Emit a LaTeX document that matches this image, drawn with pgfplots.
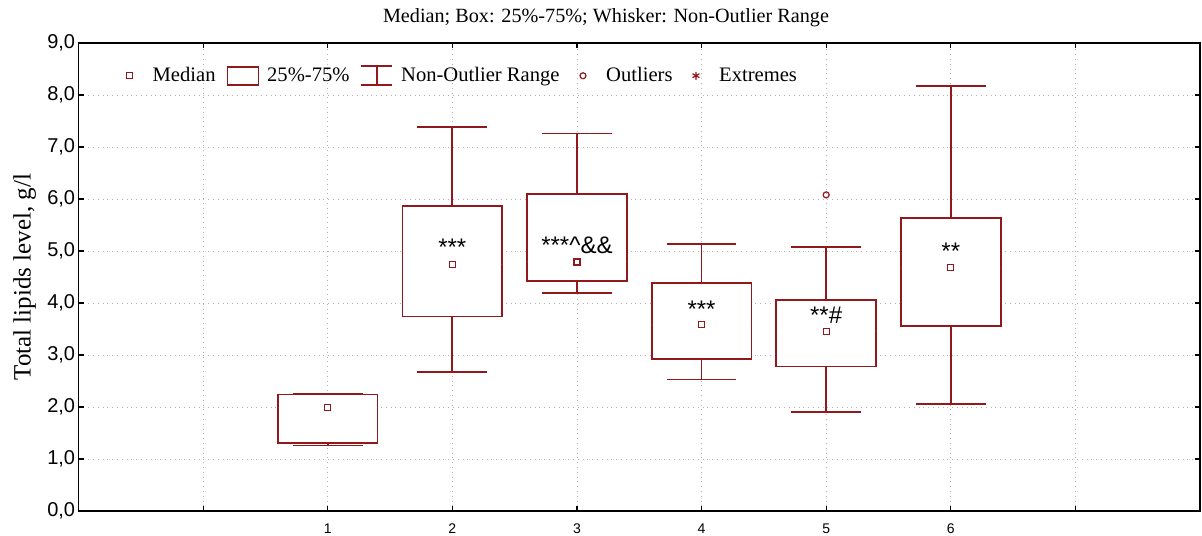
\documentclass[border=0pt]{standalone}
\usepackage{fontspec}
\setmainfont{Liberation Serif}
\newfontfamily\arialfont{Liberation Sans}
\usepackage{pgfplots}
\pgfplotsset{compat=1.18}
\usepgfplotslibrary{statistics}
\definecolor{boxred}{RGB}{145,25,30}

\begin{document}
\begin{tikzpicture}
\path[use as bounding box] (0,0) rectangle (601pt,267.5pt);
\node[anchor=base, font=\fontsize{10.1}{12}\selectfont] at (303pt,256pt)
  {Median; Box: 25\%-75\%; Whisker: Non-Outlier Range};
\begin{axis}[
  at={(39.25pt,12pt)}, anchor=south west,
  scale only axis, width=560.75pt, height=234pt,
  xmin=-1, xmax=8, ymin=0, ymax=9,
  xtick={0,...,7}, xticklabels={,1,2,3,4,5,6,},
  ytick={0,...,9},
  grid=major,
  major grid style={dotted, gray!60, line width=0.4pt},
  axis line style={black, line width=0.9pt},
  tick style={black, line width=0.6pt},
  major tick length=2.5pt, tick align=inside,
  yticklabel style={font=\arialfont\fontsize{10}{12}\selectfont, inner sep=1.5pt},
  xticklabel style={font=\arialfont\fontsize{7}{8}\selectfont, yshift=-3pt},
  /pgf/number format/.cd, fixed, fixed zerofill, precision=1, use comma, assume math mode=true,
  /pgfplots/.cd,
  ylabel={Total lipids level, g/l},
  ylabel style={font=\fontsize{12.5}{14}\selectfont, at={(axis description cs:-0.048,0.5)}, anchor=center},
  legend columns=-1,
  legend style={draw=none, fill=none, at={(axis cs:-0.694,8.37)}, anchor=west,
    inner xsep=0pt, font=\fontsize{10.3}{12}\selectfont,
    /tikz/every odd column/.append style={column sep=1.9pt},
    /tikz/every even column/.append style={column sep=3.5pt}},
  boxplot/draw direction=y,
]
% legend
\addlegendimage{legend image code/.code={\path (0pt,0pt) (13.5pt,0pt);
  \draw[boxred, line width=0.6pt, mark=square, mark size=1.5pt] plot coordinates {(6pt,0pt)};}}
\addlegendentry{Median}
\addlegendimage{legend image code/.code={\draw[boxred, line width=0.9pt, fill=white] (0pt,-4.5pt) rectangle (15.5pt,4.5pt);}}
\addlegendentry{25\%-75\%}
\addlegendimage{legend image code/.code={\draw[boxred, line width=0.9pt] (0pt,-4.8pt)--(15.5pt,-4.8pt) (7.75pt,-4.8pt)--(7.75pt,4.8pt) (0pt,4.8pt)--(15.5pt,4.8pt);}}
\addlegendentry{Non-Outlier Range}
\addlegendimage{legend image code/.code={\path (0pt,0pt) (13.5pt,0pt);
  \draw[boxred, line width=0.6pt, mark=o, mark size=1.5pt] plot coordinates {(6pt,0pt)};}}
\addlegendentry{Outliers}
\addlegendimage{legend image code/.code={\path (0pt,0pt) (13.5pt,0pt);
  \draw[boxred, line width=0.6pt, mark=asterisk, mark size=2pt] plot coordinates {(6pt,0pt)};}}
\addlegendentry{Extremes}

% boxes
\pgfplotsset{boxstyle/.style={boxred, line width=0.9pt, fill=white, forget plot}}
\addplot[boxstyle, boxplot prepared={draw position=1, lower whisker=1.26, lower quartile=1.31, median=1.99, upper quartile=2.24, upper whisker=2.26, box extend=0.8, whisker extend=0.56, every median/.style={draw=none}}] coordinates {};
\addplot[boxstyle, boxplot prepared={draw position=2, lower whisker=2.67, lower quartile=3.74, median=4.74, upper quartile=5.87, upper whisker=7.38, box extend=0.8, whisker extend=0.56, every median/.style={draw=none}}] coordinates {};
\addplot[boxstyle, boxplot prepared={draw position=3, lower whisker=4.19, lower quartile=4.43, median=4.79, upper quartile=6.10, upper whisker=7.26, box extend=0.8, whisker extend=0.56, every median/.style={draw=none}}] coordinates {};
\addplot[boxstyle, boxplot prepared={draw position=4, lower whisker=2.53, lower quartile=2.92, median=3.58, upper quartile=4.38, upper whisker=5.14, box extend=0.8, whisker extend=0.56, every median/.style={draw=none}}] coordinates {};
\addplot[boxstyle, boxplot prepared={draw position=5, lower whisker=1.91, lower quartile=2.78, median=3.45, upper quartile=4.06, upper whisker=5.08, box extend=0.8, whisker extend=0.56, every median/.style={draw=none}}] coordinates {};
\addplot[boxstyle, boxplot prepared={draw position=6, lower whisker=2.06, lower quartile=3.56, median=4.68, upper quartile=5.63, upper whisker=8.18, box extend=0.8, whisker extend=0.56, every median/.style={draw=none}}] coordinates {};

% medians
\addplot[only marks, mark=square, mark size=1.5pt, boxred, mark options={line width=0.6pt}, forget plot]
  coordinates {(1,1.99)(2,4.74)(3,4.79)(4,3.58)(5,3.45)(6,4.68)};
% outliers
\addplot[only marks, mark=o, mark size=1.5pt, boxred, mark options={line width=0.6pt}, forget plot]
  coordinates {(5,6.08)};

% significance marks
\node[anchor=base, font=\arialfont\fontsize{12}{14}\selectfont] at (axis cs:2,4.91) {***};
\node[anchor=base, font=\arialfont\fontsize{12}{14}\selectfont] at (axis cs:3,4.96) {***\textasciicircum\&\&};
\node[anchor=base, font=\arialfont\fontsize{12}{14}\selectfont] at (axis cs:4,3.73) {***};
\node[anchor=base, font=\arialfont\fontsize{12}{14}\selectfont] at (axis cs:5,3.61) {**\#};
\node[anchor=base, font=\arialfont\fontsize{12}{14}\selectfont] at (axis cs:6,4.84) {**};
\end{axis}
\end{tikzpicture}
\end{document}
